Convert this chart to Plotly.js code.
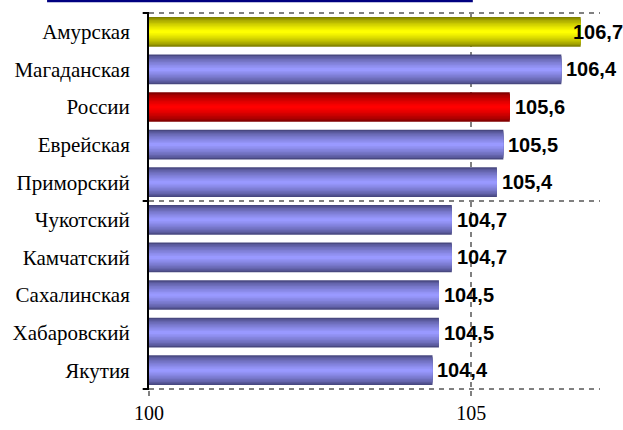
<!DOCTYPE html>
<html>
<head>
<meta charset="utf-8">
<script src="https://cdn.plot.ly/plotly-3.0.1.min.js"></script>
<style>html,body{margin:0;padding:0;background:#fff;}#chart{width:623px;height:430px;}</style>
</head>
<body>
<div id="chart"></div>
<script>
// Data (top to bottom)
var categories = ["Амурская","Магаданская","России","Еврейская","Приморский","Чукотский","Камчатский","Сахалинская","Хабаровский","Якутия"];
var values = [106.7,106.4,105.6,105.5,105.4,104.7,104.7,104.5,104.5,104.4];
var colorKind = ["yellow","blue","red","blue","blue","blue","blue","blue","blue","blue"];
var xTickVals = [100,105];
var xTickText = ["100","105"];

var palette = {
  blue:   {dark:[72,72,128],  light:[153,153,255]},
  yellow: {dark:[128,128,0],  light:[255,255,0]},
  red:    {dark:[128,0,0],    light:[255,0,0]}
};
function mix(a,b,t){return 'rgb('+a.map(function(v,i){return Math.round(v+(b[i]-v)*t);}).join(',')+')';}

var N = 10, W = 0.79;
var traces = [];
for (var k=0;k<N;k++){
  var t = k/(N-1);
  var cols = colorKind.map(function(c){return mix(palette[c].dark, palette[c].light, Math.pow(t,0.7));});
  traces.push({
    type:'bar', orientation:'h', x:values, y:categories, base:0,
    width: W*(1 - k/N),
    marker:{color:cols, line:{width:0}},
    hoverinfo:'skip', showlegend:false
  });
}

var xMin = 100, xMax = 107;
var plotL = 149, plotR = 600;
var pxPerUnit = (plotR-plotL)/(xMax-xMin);
var annotations = values.map(function(v,i){
  var endPx = plotL + (v-xMin)*pxPerUnit;
  var labelW = 50;
  var shift = 3;
  if (endPx + shift + labelW > 621) shift = 621 - labelW - endPx;
  return {
    x:v, y:categories[i], xref:'x', yref:'y', xanchor:'left', yanchor:'middle',
    xshift:shift, showarrow:false,
    text: v.toFixed(1).replace('.',','),
    font:{family:'"Liberation Sans", Arial, sans-serif', size:20, color:'#000', weight:'bold'}
  };
});

var serif = '"Liberation Serif", "Times New Roman", serif';
var grey = '#808080';
var dashLine = {color:grey, width:2, dash:'5px,5px'};
var shapes = [
  {type:'line', xref:'paper', yref:'y', x0:0, x1:1, y0:-0.5, y1:-0.5, line:dashLine, layer:'below'},
  {type:'line', xref:'paper', yref:'y', x0:0, x1:1, y0:4.5, y1:4.5, line:dashLine, layer:'below'},
  {type:'line', xref:'paper', yref:'y', x0:0, x1:1, y0:9.5, y1:9.5, line:dashLine, layer:'below'},
  // y-axis boundary ticks
  {type:'line', xref:'paper', yref:'y', x0:-0.014, x1:0, y0:-0.5, y1:-0.5, line:{color:'#000', width:2}},
  {type:'line', xref:'paper', yref:'y', x0:-0.014, x1:0, y0:4.5, y1:4.5, line:{color:'#000', width:2}},
  {type:'line', xref:'paper', yref:'y', x0:-0.014, x1:0, y0:9.5, y1:9.5, line:{color:'#000', width:2}},
  // navy rule at top
  {type:'line', xref:'paper', yref:'paper', x0:-0.226, x1:0.718, y0:1.03, y1:1.03, line:{color:'#000080', width:3}}
];

var layout = {
  width:623, height:430,
  margin:{l:149, r:23, t:12, b:40},
  paper_bgcolor:'#fff', plot_bgcolor:'#fff',
  barmode:'overlay',
  showlegend:false,
  xaxis:{
    range:[xMin,xMax], tickvals:xTickVals, ticktext:xTickText,
    showgrid:true, gridcolor:grey, gridwidth:2, griddash:'5px,5px',
    zeroline:false, showline:false,
    ticks:'outside', ticklen:5, tickcolor:grey, tickwidth:2,
    tickfont:{family:serif, size:20, color:'#000'},
    fixedrange:true
  },
  yaxis:{
    type:'category', autorange:'reversed', categoryorder:'array', categoryarray:categories,
    showgrid:false, zeroline:false,
    showline:true, linecolor:'#000', linewidth:2,
    ticks:'', ticklabelstandoff:13,
    tickfont:{family:serif, size:21, color:'#000'},
    fixedrange:true
  },
  shapes:shapes,
  annotations:annotations
};

Plotly.newPlot('chart', traces, layout, {displayModeBar:false, staticPlot:true});
</script>
</body>
</html>
